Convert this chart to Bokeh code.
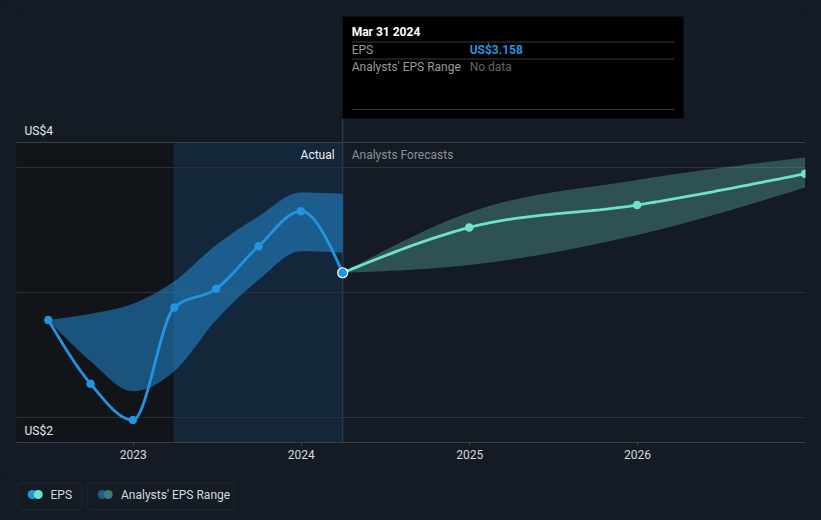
import numpy as np
import pandas as pd
from bokeh.plotting import figure
from bokeh.layouts import column
from bokeh.models import (Range1d, Span, BoxAnnotation, Label, FixedTicker,
                          DatetimeTickFormatter)
from bokeh.embed import file_html
from bokeh.resources import INLINE

# ---------------- data ----------------
eps_dates = ["2022-06-30", "2022-09-30", "2022-12-31", "2023-03-31",
             "2023-06-30", "2023-09-30", "2023-12-31", "2024-03-31"]
eps_values = [2.78, 2.27, 1.98, 2.88, 3.03, 3.37, 3.65, 3.158]
eps_range_low = [2.78, 2.45, 2.21, 2.37, 2.78, 3.10, 3.33, 3.32]
eps_range_high = [2.78, 2.83, 2.91, 3.09, 3.38, 3.61, 3.80, 3.79]

forecast_dates = ["2024-03-31", "2024-12-31", "2025-12-31", "2026-12-31"]
forecast_values = [3.158, 3.52, 3.70, 3.95]
forecast_low = [3.158, 3.22, 3.46, 3.84]
forecast_high = [3.158, 3.64, 3.90, 4.08]

x_tick_dates = ["2023-01-01", "2024-01-01", "2025-01-01", "2026-01-01"]
y_label_values = [4.0, 2.0]
y_label_texts = ["US$4", "US$2"]
gridline_values = [3.0, 2.0, 4.0]
frame_top_value = 4.2
actual_start = "2023-03-31"
tooltip_date = "2024-03-31"

# ---------------- style ----------------
BG = "#151b24"
DARK = "#111419"
HIGHLIGHT = "#14263a"
BLUE = "#2394df"
TEAL = "#6ee2cc"
GRID = "#2c3139"
GRID_TOP = "#3a3f47"
FONT = "Roboto"


def ms(d):
    return pd.Timestamp(d).value / 1e6


def monotone(xs, ys, n=40):
    xs = np.asarray(xs, float)
    ys = np.asarray(ys, float)
    h = np.diff(xs)
    s = np.diff(ys) / h
    m = np.zeros_like(ys)
    for i in range(1, len(xs) - 1):
        if s[i - 1] * s[i] > 0:
            p = (s[i - 1] * h[i] + s[i] * h[i - 1]) / (h[i - 1] + h[i])
            m[i] = (np.sign(s[i - 1]) + np.sign(s[i])) * min(abs(s[i - 1]), abs(s[i]), 0.5 * abs(p))
    m[0] = (3 * s[0] - m[1]) / 2
    m[-1] = (3 * s[-1] - m[-2]) / 2
    ox, oy = [], []
    t = np.linspace(0, 1, n, endpoint=False)
    for i in range(len(xs) - 1):
        h00 = 2 * t**3 - 3 * t**2 + 1
        h10 = t**3 - 2 * t**2 + t
        h01 = -2 * t**3 + 3 * t**2
        h11 = t**3 - t**2
        ox.extend(xs[i] + t * h[i])
        oy.extend(h00 * ys[i] + h10 * h[i] * m[i] + h01 * ys[i + 1] + h11 * h[i] * m[i + 1])
    ox.append(xs[-1])
    oy.append(ys[-1])
    return np.array(ox), np.array(oy)


# frame geometry (page px): left 16, right 805, top 8, bottom 442
X0 = ms("2022-04-22")
X1 = ms("2027-01-01")
Y0 = 1.8
PX_PER_UNIT = 125.0
FRAME_H = 434
FRAME_W = 789
Y1 = Y0 + FRAME_H / PX_PER_UNIT


def px_x(px):
    return X0 + (px - 16) / FRAME_W * (X1 - X0)


def px_y(py):
    return Y0 + (442 - py) / PX_PER_UNIT


p = figure(width=821, height=478, x_axis_type="datetime", y_axis_location=None,
           x_range=Range1d(X0, X1), y_range=Range1d(Y0, Y1),
           toolbar_location=None, output_backend="svg",
           min_border_left=16, min_border_right=16, min_border_top=8, min_border_bottom=36)
p.background_fill_color = BG
p.border_fill_color = BG
p.outline_line_color = None
p.grid.visible = False

# regions
p.add_layout(BoxAnnotation(right=ms(actual_start), top=frame_top_value, fill_color=DARK,
                           fill_alpha=1, line_color=None, level="underlay"))
p.add_layout(BoxAnnotation(left=ms(actual_start), right=ms(tooltip_date), top=frame_top_value,
                           fill_color=HIGHLIGHT, fill_alpha=1, line_color=None, level="underlay"))

# gridlines
for g in gridline_values:
    p.add_layout(Span(location=g, dimension="width", line_color=GRID, line_width=1, level="underlay"))
p.add_layout(Span(location=frame_top_value, dimension="width", line_color=GRID_TOP,
                  line_width=1, level="underlay"))

# region edge + crosshair line
p.segment(x0=[ms(actual_start)], y0=[Y0], x1=[ms(actual_start)], y1=[frame_top_value],
          line_color="#1b2d40", line_width=1)
p.segment(x0=[ms(tooltip_date)], y0=[Y0], x1=[ms(tooltip_date)], y1=[px_y(118)],
          line_color="#1e3a56", line_width=1.5)

eps_x = [ms(d) for d in eps_dates]
fc_x = [ms(d) for d in forecast_dates]

# bands
bx, blo = monotone(eps_x, eps_range_low)
_, bhi = monotone(eps_x, eps_range_high)
p.varea(x=bx, y1=blo, y2=bhi, fill_color=BLUE, fill_alpha=0.5)

fx, flo = monotone(fc_x, forecast_low)
_, fhi = monotone(fc_x, forecast_high)
p.varea(x=fx, y1=flo, y2=fhi, fill_color=TEAL, fill_alpha=0.28)

# lines
lx, ly = monotone(eps_x, eps_values)
p.line(lx, ly, line_color=BLUE, line_width=2.8)
gx, gy = monotone(fc_x, forecast_values)
p.line(gx, gy, line_color=TEAL, line_width=2.8)

p.scatter(eps_x[:-1], eps_values[:-1], size=8.5, fill_color=BLUE, line_color=None)
p.scatter(fc_x[1:], forecast_values[1:], size=8.5, fill_color=TEAL, line_color=None)
p.scatter(eps_x[-1:], eps_values[-1:], size=10, fill_color=BLUE, line_color="white", line_width=1.2)

# x axis
ax = p.xaxis[0]
ax.ticker = FixedTicker(ticks=[ms(d) for d in x_tick_dates])
ax.formatter = DatetimeTickFormatter(years="%Y", months="%Y", days="%Y")
ax.axis_line_color = GRID_TOP
ax.major_tick_line_color = GRID_TOP
ax.major_tick_out = 4
ax.major_tick_in = 0
ax.minor_tick_line_color = None
ax.major_label_text_color = "#d6d9de"
ax.major_label_text_font = FONT
ax.major_label_text_font_size = "12px"
ax.major_label_standoff = 3

# y labels
for v, t in zip(y_label_values, y_label_texts):
    yy = px_y(130) if v == max(y_label_values) else px_y(430)
    p.add_layout(Label(x=px_x(24), y=yy, text=t, text_color="#e6e8eb", text_font=FONT,
                       text_font_size="12px", text_baseline="middle"))

# Actual / Forecast labels
p.add_layout(Label(x=ms(tooltip_date), y=px_y(154), x_offset=-8, text="Actual", text_align="right",
                   text_baseline="middle", text_color="#eeeeee", text_font=FONT, text_font_size="12px"))
p.add_layout(Label(x=ms(tooltip_date), y=px_y(154), x_offset=9, text="Analysts Forecasts",
                   text_baseline="middle", text_color="#8b9099", text_font=FONT, text_font_size="12px"))

# tooltip box
p.quad(left=[ms(tooltip_date)], right=[px_x(683)], top=[px_y(16)], bottom=[px_y(118)],
       fill_color="#000000", line_color=None)
for sy in [41.5, 58.5, 109]:
    p.segment(x0=[px_x(351)], y0=[px_y(sy)], x1=[px_x(674)], y1=[px_y(sy)],
              line_color="#3a3a3a", line_width=1)
p.add_layout(Label(x=ms(tooltip_date), x_offset=9, y=px_y(31), text="Mar 31 2024",
                   text_baseline="middle", text_color="#ffffff", text_font=FONT,
                   text_font_size="12px", text_font_style="bold"))
p.add_layout(Label(x=ms(tooltip_date), x_offset=9, y=px_y(49), text="EPS",
                   text_baseline="middle", text_color="#9a9a9a", text_font=FONT, text_font_size="12px"))
p.add_layout(Label(x=ms(tooltip_date), x_offset=127, y=px_y(49), text="US$3.158",
                   text_baseline="middle", text_color=BLUE, text_font=FONT, text_font_size="12px",
                   text_font_style="bold"))
p.add_layout(Label(x=ms(tooltip_date), x_offset=9, y=px_y(66), text="Analysts' EPS Range",
                   text_baseline="middle", text_color="#9a9a9a", text_font=FONT, text_font_size="12px"))
p.add_layout(Label(x=ms(tooltip_date), x_offset=127, y=px_y(66), text="No data",
                   text_baseline="middle", text_color="#666666", text_font=FONT, text_font_size="12px"))

# ---------------- legend figure (page coordinates, frame 16..805 x 478..520) ----------------
lf = figure(width=821, height=42, x_range=Range1d(16, 805), y_range=Range1d(520, 478),
            x_axis_location=None, y_axis_location=None, toolbar_location=None,
            output_backend="svg", min_border_left=16, min_border_right=16,
            min_border_top=0, min_border_bottom=0)
lf.background_fill_color = BG
lf.border_fill_color = BG
lf.outline_line_color = None
lf.grid.visible = False

lf.add_layout(BoxAnnotation(left=16.5, right=81.5, top=482.5, bottom=509.5, fill_color=None,
                            line_color="#3c414b", line_width=1, border_radius=4))
lf.add_layout(BoxAnnotation(left=86.5, right=233.5, top=482.5, bottom=509.5, fill_color=None,
                            line_color="#3c414b", line_width=1, border_radius=4))
lf.scatter([31.7], [494], size=9, fill_color=BLUE, line_color=None)
lf.scatter([37.7], [494], size=9, fill_color=TEAL, line_color=None)
lf.scatter([101.7], [494], size=9, fill_color="#1f5a88", line_color=None)
lf.scatter([107.7], [494], size=9, fill_color="#3a7d77", line_color=None)
lf.add_layout(Label(x=50, y=494, text="EPS", text_baseline="middle", text_color="#d6d9de",
                    text_font=FONT, text_font_size="12px"))
lf.add_layout(Label(x=120.5, y=494, text="Analysts' EPS Range", text_baseline="middle",
                    text_color="#d6d9de", text_font=FONT, text_font_size="12px"))

layout = column(p, lf, spacing=0)
html = file_html(layout, INLINE)
html = html.replace("</head>",
                    "<style>html,body{background:#151b24;margin:0;padding:0;overflow:hidden;}</style></head>", 1)
open("out.html", "w").write(html)
